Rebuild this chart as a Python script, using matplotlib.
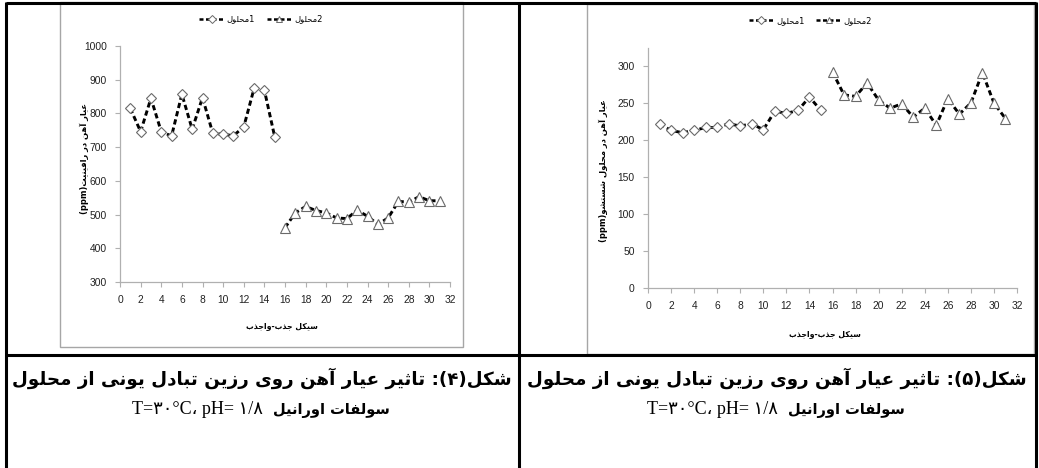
import matplotlib
matplotlib.use("Agg")
import matplotlib.pyplot as plt
from matplotlib.lines import Line2D
from matplotlib.patches import Rectangle

# ---------------- data ----------------
cycles1 = list(range(1, 16))
cycles2 = list(range(16, 32))

# figure 4 (raffinate)
fig4_s1 = [815, 746, 845, 746, 733, 857, 753, 847, 741, 738, 734, 760, 874, 869, 731]
fig4_s2 = [461, 505, 524, 512, 505, 490, 488, 513, 495, 471, 490, 539, 537, 553, 541, 541]
# figure 5 (wash solution)
fig5_s1 = [222, 213, 210, 213, 217, 217, 222, 219, 222, 214, 239, 236, 240, 258, 240]
fig5_s2 = [292, 261, 259, 277, 254, 243, 249, 231, 243, 220, 256, 235, 250, 291, 250, 229]

xticks = list(range(0, 33, 2))
yticks4 = list(range(300, 1001, 100))
yticks5 = list(range(0, 301, 50))

# ---------------- minimal Persian shaping ----------------
F = {
    'ا': ('\uFE8D', '\uFE8E', None, None), 'آ': ('\uFE81', '\uFE82', None, None),
    'ب': ('\uFE8F', '\uFE90', '\uFE91', '\uFE92'), 'ت': ('\uFE95', '\uFE96', '\uFE97', '\uFE98'),
    'ث': ('\uFE99', '\uFE9A', '\uFE9B', '\uFE9C'), 'ج': ('\uFE9D', '\uFE9E', '\uFE9F', '\uFEA0'),
    'ح': ('\uFEA1', '\uFEA2', '\uFEA3', '\uFEA4'), 'خ': ('\uFEA5', '\uFEA6', '\uFEA7', '\uFEA8'),
    'د': ('\uFEA9', '\uFEAA', None, None), 'ذ': ('\uFEAB', '\uFEAC', None, None),
    'ر': ('\uFEAD', '\uFEAE', None, None), 'ز': ('\uFEAF', '\uFEB0', None, None),
    'س': ('\uFEB1', '\uFEB2', '\uFEB3', '\uFEB4'), 'ش': ('\uFEB5', '\uFEB6', '\uFEB7', '\uFEB8'),
    'ع': ('\uFEC9', '\uFECA', '\uFECB', '\uFECC'), 'ف': ('\uFED1', '\uFED2', '\uFED3', '\uFED4'),
    'ل': ('\uFEDD', '\uFEDE', '\uFEDF', '\uFEE0'), 'م': ('\uFEE1', '\uFEE2', '\uFEE3', '\uFEE4'),
    'ن': ('\uFEE5', '\uFEE6', '\uFEE7', '\uFEE8'), 'ه': ('\uFEE9', '\uFEEA', '\uFEEB', '\uFEEC'),
    'و': ('\uFEED', '\uFEEE', None, None),
    'ی': ('\uFBFC', '\uFBFD', '\uFBFE', '\uFBFF'), 'ک': ('\uFB8E', '\uFB8F', '\uFB90', '\uFB91'),
}


def shape(s):
    out = []
    n = len(s)
    for i, ch in enumerate(s):
        if ch not in F:
            out.append(ch)
            continue
        iso, fin, ini, med = F[ch]
        prev = s[i - 1] if i > 0 else None
        nxt = s[i + 1] if i < n - 1 else None
        jp = prev in F and F[prev][2] is not None
        jn = nxt in F and ini is not None
        if jp and jn:
            out.append(med)
        elif jp:
            out.append(fin)
        elif jn:
            out.append(ini)
        else:
            out.append(iso)
    return ''.join(out)


def rtl(s):
    """Right-to-left paragraph: whole string reversed, brackets mirrored."""
    r = shape(s)[::-1]
    return r.translate(str.maketrans('()', ')('))


# ---------------- figure ----------------
W, H = 1039, 468
fig = plt.figure(figsize=(W / 100, H / 100), dpi=100)
AR = ['DejaVu Sans']


def fx(x):
    return x / W


def fy(y):
    return 1 - y / H


def ax_rect(x0, x1, y0, y1):
    return [fx(x0), fy(y1), fx(x1) - fx(x0), fy(y0) - fy(y1)]


# table lines
black = dict(color='black', lw=2.2, transform=fig.transFigure, solid_capstyle='butt')
for xx in (6, 519, 1036):
    fig.add_artist(Line2D([fx(xx)] * 2, [fy(2), fy(468)], **black))
fig.add_artist(Line2D([fx(6), fx(1036)], [fy(2.5)] * 2, **black))
fig.add_artist(Line2D([fx(6), fx(1036)], [fy(355)] * 2, **black))

# grey chart frames
for (x0, x1, y0, y1) in [(60, 463, 2, 347), (587, 1034, 4, 354)]:
    fig.add_artist(Rectangle((fx(x0), fy(y1)), fx(x1) - fx(x0), fy(y0) - fy(y1),
                             transform=fig.transFigure, fill=False,
                             edgecolor='#a6a6a6', lw=1.0))

GREY = '#b0b0b0'
MEC = '#6a6a6a'
dash = (0, (1.8, 1.1))


def make_axes(rect, s1, s2, ylim, yticks, ylabel, ylab_xy, xlab_xy):
    ax = fig.add_axes(rect)
    ax.plot(cycles1, s1, color='black', lw=2.1, ls=dash, marker='D', ms=5.2,
            mfc='white', mec=MEC, mew=0.8)
    ax.plot(cycles2, s2, color='black', lw=2.1, ls=dash, marker='^', ms=6.8,
            mfc='white', mec=MEC, mew=0.8)
    ax.set_xlim(0, 32)
    ax.set_ylim(*ylim)
    ax.set_xticks(xticks)
    ax.set_yticks(yticks)
    for sp in ('top', 'right'):
        ax.spines[sp].set_visible(False)
    for sp in ('left', 'bottom'):
        ax.spines[sp].set_color(GREY)
        ax.spines[sp].set_linewidth(0.9)
    ax.tick_params(direction='out', length=3.5, width=0.8, color=GREY,
                   labelsize=7.4, labelcolor='#222222', pad=6)
    for lab in ax.get_xticklabels() + ax.get_yticklabels():
        lab.set_fontfamily('Liberation Sans')
    ax.set_ylabel(ylabel, fontsize=6, fontweight='bold', family=AR)
    ax.yaxis.set_label_coords(*ylab_xy)
    ax.set_xlabel(rtl('سیکل جذب-واجذب'), fontsize=5.6, fontweight='bold', family=AR)
    ax.xaxis.set_label_coords(*xlab_xy)
    return ax


ax4 = make_axes(ax_rect(120, 450, 46, 282), fig4_s1, fig4_s2, (300, 1000), yticks4,
                '(ppm)' + rtl('عیار آهن در رافینیت'), (-0.094, 0.525), (0.49, -0.17))
ax5 = make_axes(ax_rect(648, 1017, 48.2, 288.3), fig5_s1, fig5_s2, (0, 324), yticks5,
                '(ppm)' + rtl('عیار آهن در محلول شستشو'), (-0.108, 0.49), (0.48, -0.175))

# legends
for ax, cx in ((ax4, 0.427), (ax5, 0.44)):
    h1 = Line2D([], [], color='black', lw=1.8, ls=(0, (1.6, 1.0)), marker='D', ms=4.0,
                mfc='white', mec=MEC, mew=0.7)
    h2 = Line2D([], [], color='black', lw=1.8, ls=(0, (1.6, 1.0)), marker='^', ms=5.0,
                mfc='white', mec=MEC, mew=0.7)
    ax.legend([h1, h2], [rtl('محلول') + '1', rtl('محلول') + '2'], loc='center',
              bbox_to_anchor=(cx, 1.114), ncol=2, frameon=False, handlelength=3.0,
              handletextpad=0.3, columnspacing=1.4, prop={'family': AR, 'size': 6.0})

# captions
renderer = fig.canvas.get_renderer()


def fit_text(x, y, s, width_px, **kw):
    t = fig.text(fx(x), fy(y), s, ha='center', va='center', **kw)
    w = t.get_window_extent(renderer).width
    t.set_fontsize(t.get_fontsize() * width_px / w)
    return t


for cx, num in ((262, '۴'), (777, '۵')):
    fit_text(cx, 378, rtl('شکل(' + num + '): تاثیر عیار آهن روی رزین تبادل یونی از محلول'),
             498, fontsize=11, fontweight='bold', family=AR)
    fig.text(fx(cx - 130), fy(410), 'T=۳۰°C، pH= ۱/۸', ha='left', va='center',
             fontsize=13, family=['Liberation Serif', 'DejaVu Sans'])
    fig.text(fx(cx + 128), fy(410), rtl('سولفات اورانیل'), ha='right', va='center',
             fontsize=10.5, fontweight='bold', family=AR)

fig.savefig('out.png', dpi=100)
